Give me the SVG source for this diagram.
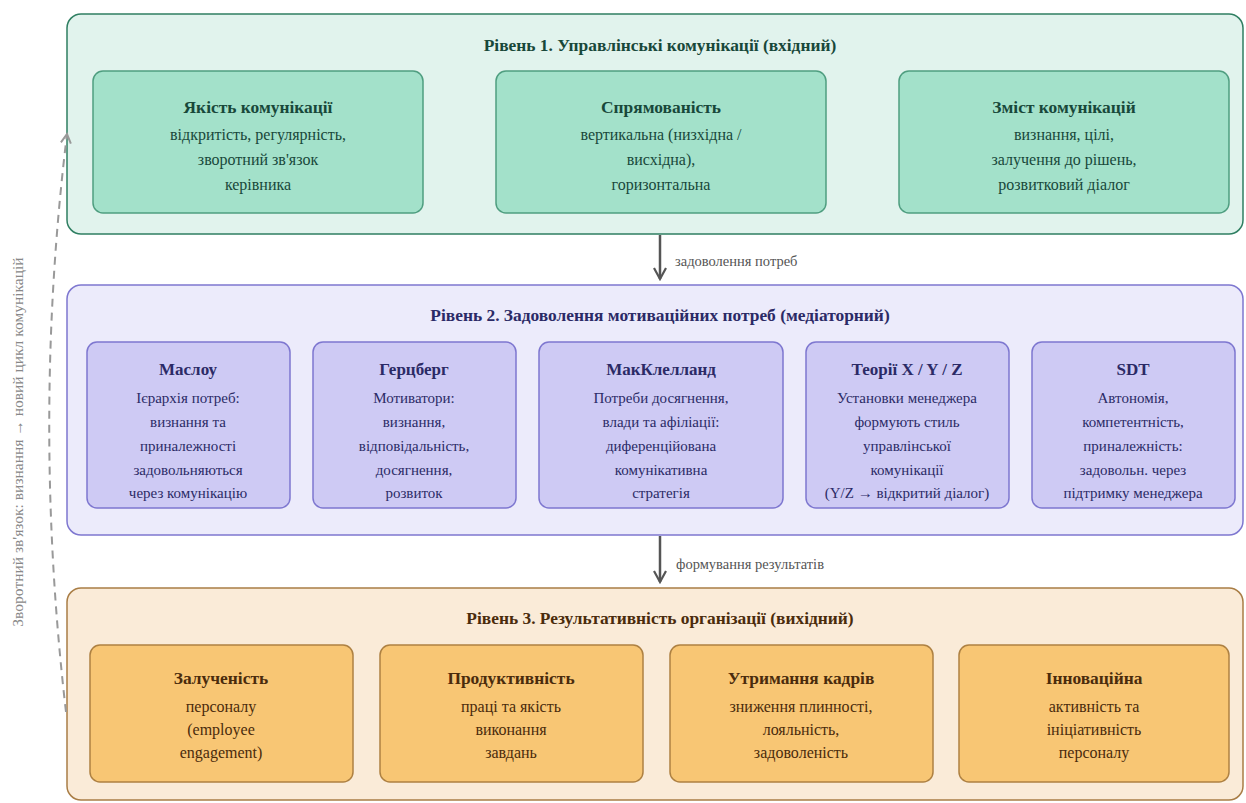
<svg xmlns="http://www.w3.org/2000/svg" width="1246" height="803" viewBox="0 0 1246 803" font-family="'Liberation Serif', 'DejaVu Serif', serif">
<defs>
<style>
text{font-family:"Liberation Serif","DejaVu Serif",serif;text-anchor:middle}
.lt{font-size:17.4px;font-weight:bold}
.nt{font-size:17.4px;font-weight:bold}
.nb{font-size:16px}
.g2 .nt{font-size:17px}
.g2 .nb{font-size:15px}
.g1 .outer{fill:#e1f3ed;stroke:#2f7f62;stroke-width:1.5}
.g1 .box{fill:#a3e1ca;stroke:#4f9e80;stroke-width:1.5}
.g1 text{fill:#18483a}
.g2 .outer{fill:#ecebfb;stroke:#7e77d0;stroke-width:1.5}
.g2 .box{fill:#cecaf4;stroke:#7e77d0;stroke-width:1.5}
.g2 text{fill:#2b2a66}
.g3 .outer{fill:#faebd8;stroke:#a97d45;stroke-width:1.5}
.g3 .box{fill:#f8c674;stroke:#ae8142;stroke-width:1.5}
.g3 text{fill:#4a2b0c}
.conn{stroke:#555;stroke-width:2.5;fill:none}
.clabel{font-size:14.5px;fill:#555;text-anchor:start}
.fb{stroke:#999;stroke-width:2;fill:none;stroke-dasharray:8 6}
.vt{font-size:15.5px;fill:#888;text-anchor:middle}
</style>
<marker id="ah" viewBox="0 0 14 14" refX="12" refY="7" markerWidth="14" markerHeight="14" markerUnits="userSpaceOnUse" orient="auto">
<path d="M1,1 L12,7 L1,13" fill="none" stroke="#555" stroke-width="2.2"/>
</marker>
<marker id="ahf" viewBox="0 0 12 12" refX="10" refY="6" markerWidth="12" markerHeight="12" markerUnits="userSpaceOnUse" orient="auto">
<path d="M1,1 L10,6 L1,11" fill="none" stroke="#999" stroke-width="2"/>
</marker>
</defs>
<rect width="1246" height="803" fill="#fff"/>

<g id="level1" class="g1">
<rect class="outer" x="67" y="14" width="1176" height="220" rx="14"/>
<text class="lt" x="660" y="51">Рівень 1. Управлінські комунікації (вхідний)</text>
<g id="n1_1">
<rect class="box" x="93" y="71" width="330" height="142" rx="10"/>
<text class="nt" x="258" y="113">Якість комунікації</text>
<text class="nb" x="258" y="140">відкритість, регулярність,</text>
<text class="nb" x="258" y="165">зворотний зв'язок</text>
<text class="nb" x="258" y="190">керівника</text>
</g>
<g id="n1_2">
<rect class="box" x="496" y="71" width="330" height="142" rx="10"/>
<text class="nt" x="661" y="113">Спрямованість</text>
<text class="nb" x="661" y="140">вертикальна (низхідна /</text>
<text class="nb" x="661" y="165">висхідна),</text>
<text class="nb" x="661" y="190">горизонтальна</text>
</g>
<g id="n1_3">
<rect class="box" x="899" y="71" width="330" height="142" rx="10"/>
<text class="nt" x="1064" y="113">Зміст комунікацій</text>
<text class="nb" x="1064" y="140">визнання, цілі,</text>
<text class="nb" x="1064" y="165">залучення до рішень,</text>
<text class="nb" x="1064" y="190">розвитковий діалог</text>
</g>
</g>

<g id="level2" class="g2">
<rect class="outer" x="67" y="285" width="1176" height="250" rx="14"/>
<text class="lt" x="660" y="321">Рівень 2. Задоволення мотиваційних потреб (медіаторний)</text>
<g id="n2_1">
<rect class="box" x="87" y="342" width="203" height="166" rx="10"/>
<text class="nt" x="188" y="375">Маслоу</text>
<text class="nb" x="188" y="403">Ієрархія потреб:</text>
<text class="nb" x="188" y="427">визнання та</text>
<text class="nb" x="188" y="451">приналежності</text>
<text class="nb" x="188" y="475">задовольняються</text>
<text class="nb" x="188" y="498">через комунікацію</text>
</g>
<g id="n2_2">
<rect class="box" x="313" y="342" width="203" height="166" rx="10"/>
<text class="nt" x="414" y="375">Герцберг</text>
<text class="nb" x="414" y="403">Мотиватори:</text>
<text class="nb" x="414" y="427">визнання,</text>
<text class="nb" x="414" y="451">відповідальність,</text>
<text class="nb" x="414" y="475">досягнення,</text>
<text class="nb" x="414" y="498">розвиток</text>
</g>
<g id="n2_3">
<rect class="box" x="539" y="342" width="244" height="166" rx="10"/>
<text class="nt" x="661" y="375">МакКлелланд</text>
<text class="nb" x="661" y="403">Потреби досягнення,</text>
<text class="nb" x="661" y="427">влади та афіліації:</text>
<text class="nb" x="661" y="451">диференційована</text>
<text class="nb" x="661" y="475">комунікативна</text>
<text class="nb" x="661" y="498">стратегія</text>
</g>
<g id="n2_4">
<rect class="box" x="806" y="342" width="203" height="166" rx="10"/>
<text class="nt" x="907" y="375">Теорії X / Y / Z</text>
<text class="nb" x="907" y="403">Установки менеджера</text>
<text class="nb" x="907" y="427">формують стиль</text>
<text class="nb" x="907" y="451">управлінської</text>
<text class="nb" x="907" y="475">комунікації</text>
<text class="nb" x="907" y="498">(Y/Z → відкритий діалог)</text>
</g>
<g id="n2_5">
<rect class="box" x="1032" y="342" width="203" height="166" rx="10"/>
<text class="nt" x="1133" y="375">SDT</text>
<text class="nb" x="1133" y="403">Автономія,</text>
<text class="nb" x="1133" y="427">компетентність,</text>
<text class="nb" x="1133" y="451">приналежність:</text>
<text class="nb" x="1133" y="475">задовольн. через</text>
<text class="nb" x="1133" y="498">підтримку менеджера</text>
</g>
</g>

<g id="level3" class="g3">
<rect class="outer" x="67" y="588" width="1176" height="212" rx="14"/>
<text class="lt" x="660" y="624">Рівень 3. Результативність організації (вихідний)</text>
<g id="n3_1">
<rect class="box" x="90" y="645" width="263" height="137" rx="10"/>
<text class="nt" x="221" y="684">Залученість</text>
<text class="nb" x="221" y="712">персоналу</text>
<text class="nb" x="221" y="735">(employee</text>
<text class="nb" x="221" y="758">engagement)</text>
</g>
<g id="n3_2">
<rect class="box" x="380" y="645" width="263" height="137" rx="10"/>
<text class="nt" x="511" y="684">Продуктивність</text>
<text class="nb" x="511" y="712">праці та якість</text>
<text class="nb" x="511" y="735">виконання</text>
<text class="nb" x="511" y="758">завдань</text>
</g>
<g id="n3_3">
<rect class="box" x="670" y="645" width="263" height="137" rx="10"/>
<text class="nt" x="801" y="684">Утримання кадрів</text>
<text class="nb" x="801" y="712">зниження плинності,</text>
<text class="nb" x="801" y="735">лояльність,</text>
<text class="nb" x="801" y="758">задоволеність</text>
</g>
<g id="n3_4">
<rect class="box" x="959" y="645" width="270" height="137" rx="10"/>
<text class="nt" x="1094" y="684">Інноваційна</text>
<text class="nb" x="1094" y="712">активність та</text>
<text class="nb" x="1094" y="735">ініціативність</text>
<text class="nb" x="1094" y="758">персоналу</text>
</g>
</g>

<g id="connectors">
<line class="conn" x1="660" y1="235" x2="660" y2="279" marker-end="url(#ah)"/>
<text class="clabel" x="675" y="266">задоволення потреб</text>
<line class="conn" x1="660" y1="536" x2="660" y2="582" marker-end="url(#ah)"/>
<text class="clabel" x="676" y="569">формування результатів</text>
<path class="fb" d="M66,712 Q32,420 67,134" marker-end="url(#ahf)"/>
<text class="vt" x="0" y="0" transform="translate(23,442) rotate(-90)">Зворотний зв'язок: визнання → новий цикл комунікацій</text>
</g>
</svg>
